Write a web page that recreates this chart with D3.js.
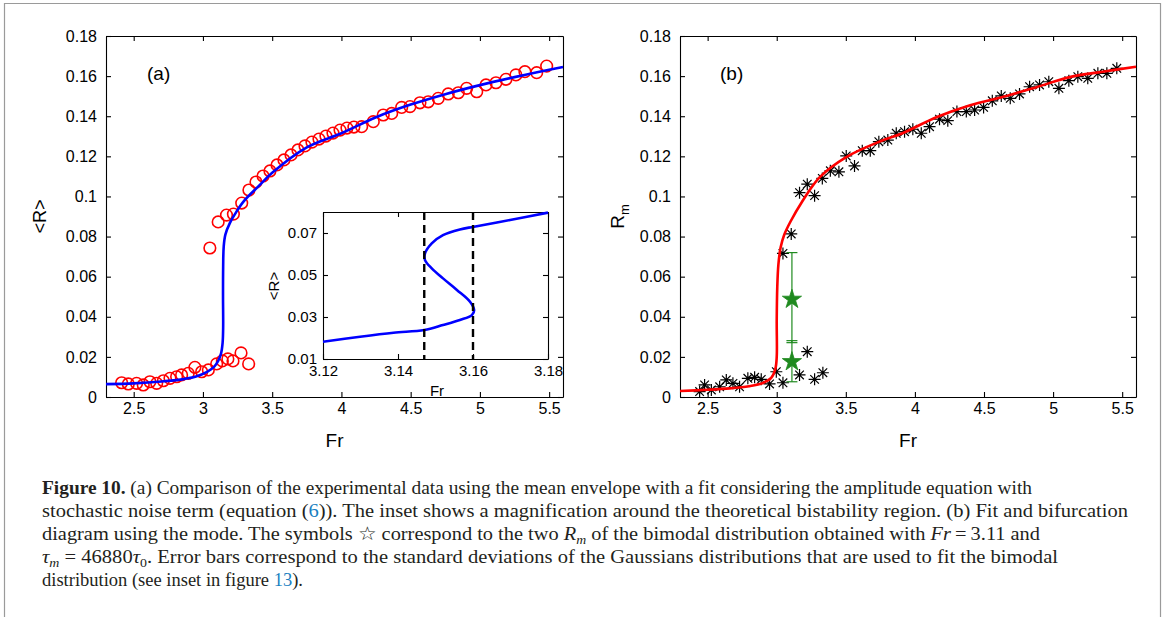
<!DOCTYPE html>
<html>
<head>
<meta charset="utf-8">
<script src="https://cdn.jsdelivr.net/npm/d3@7"></script>
<style>
  body { margin: 0; background: #fff; }
  text { font-family: "Liberation Sans", Arial, sans-serif; }
  .cap text { font-family: "Liberation Serif", "Times New Roman", serif; }
</style>
</head>
<body>
<script>
// tick values
var frTicks = [2.5, 3, 3.5, 4, 4.5, 5, 5.5];
var rTicks = [0, 0.02, 0.04, 0.06, 0.08, 0.1, 0.12, 0.14, 0.16, 0.18];
var insetFrTicks = [3.12, 3.14, 3.16, 3.18];
var insetRTicks = [0.01, 0.03, 0.05, 0.07];

// (a) experimental mean envelope (red circles)
var circleFr = [2.413, 2.461, 2.521, 2.569, 2.617, 2.666, 2.714, 2.762, 2.81, 2.846, 2.894, 2.942, 2.991, 3.039, 3.099,
    3.14, 3.18, 3.217, 3.275, 3.33,
    3.05, 3.11, 3.17, 3.22, 3.28,
    3.332, 3.383, 3.434, 3.484, 3.535, 3.585, 3.636, 3.686, 3.737, 3.787, 3.838, 3.888, 3.939, 3.99, 4.04, 4.09,
    4.146, 4.23, 4.302, 4.363, 4.435, 4.495, 4.567, 4.627, 4.699, 4.771, 4.844, 4.904, 4.977, 5.044, 5.116, 5.188, 5.26, 5.325, 5.41, 5.482];
var circleR = [0.0071, 0.0065, 0.0068, 0.006, 0.0076, 0.0068, 0.0081, 0.0093, 0.0101, 0.011, 0.0118, 0.0148, 0.0126, 0.0135, 0.0165,
    0.018, 0.019, 0.018, 0.022, 0.0165,
    0.0743, 0.0873, 0.0907, 0.0912, 0.0967,
    0.1032, 0.1072, 0.1102, 0.1127, 0.1157, 0.1182, 0.1207, 0.1232, 0.1252, 0.1271, 0.1286, 0.1301, 0.1316, 0.1331, 0.1341, 0.1346,
    0.1348, 0.1373, 0.1406, 0.1414, 0.1444, 0.1448, 0.1467, 0.1472, 0.1489, 0.1511, 0.1517, 0.1539, 0.1522, 0.1556, 0.1567, 0.1584, 0.1606, 0.1622, 0.1617, 0.165];

// (a) fit (blue line)
var fitAFr = [2.3, 2.5, 2.7, 2.85, 2.95, 3.03, 3.08, 3.11, 3.13, 3.142, 3.146, 3.145, 3.146, 3.15, 3.162, 3.195, 3.24, 3.3, 3.4, 3.5, 3.75, 4.0, 4.25, 4.5, 4.75, 5.0, 5.25, 5.5, 5.6];
var fitAR = [0.0064, 0.0068, 0.0077, 0.0088, 0.0102, 0.0125, 0.015, 0.018, 0.0215, 0.027, 0.035, 0.05, 0.065, 0.075, 0.081, 0.0868, 0.0922, 0.098, 0.105, 0.1118, 0.1245, 0.1315, 0.1395, 0.1458, 0.151, 0.1555, 0.1595, 0.1632, 0.1645];

// inset: S-shaped branch and bistability limits
var sFr = [3.12, 3.1299, 3.1388, 3.147, 3.152, 3.1565, 3.1597, 3.1603, 3.1592, 3.1557, 3.152, 3.149, 3.1472, 3.1472, 3.149, 3.152, 3.1565, 3.1603, 3.1699, 3.18];
var sR = [0.0182, 0.0206, 0.0225, 0.0238, 0.0262, 0.0286, 0.0309, 0.0333, 0.0373, 0.0429, 0.0484, 0.0532, 0.0571, 0.0603, 0.0651, 0.069, 0.0717, 0.073, 0.0762, 0.0797];
var limitFr = [3.147, 3.16];

// (b) mode (black asterisks)
var modeFr = [2.442, 2.478, 2.527, 2.587, 2.635, 2.683, 2.731, 2.791, 2.84, 2.888, 2.948, 2.997, 3.045, 3.165, 3.221, 3.274, 3.334,
    3.045, 3.105,
    3.165, 3.221, 3.274, 3.33, 3.388, 3.45, 3.503, 3.563, 3.619, 3.677, 3.739,
    3.804, 3.865, 3.925, 3.985, 4.046, 4.106, 4.178, 4.238, 4.304, 4.372, 4.432, 4.497, 4.56, 4.625, 4.69, 4.757, 4.83, 4.902, 4.969, 5.042, 5.114, 5.179, 5.251, 5.324, 5.389, 5.461];
var modeR = [0.0027, 0.006, 0.0035, 0.0051, 0.0085, 0.0068, 0.0051, 0.0093, 0.0098, 0.0088, 0.0065, 0.0126, 0.0071, 0.011, 0.0226, 0.0088, 0.0121,
    0.0716, 0.0813,
    0.1019, 0.1061, 0.1004, 0.109, 0.1128, 0.1123, 0.1202, 0.1152, 0.1228, 0.1228, 0.1273,
    0.1281, 0.1315, 0.1323, 0.1335, 0.1315, 0.1348, 0.1385, 0.1378, 0.1423, 0.1423, 0.1431, 0.1444, 0.1477, 0.1501, 0.1489, 0.1511, 0.1547, 0.1556, 0.1572, 0.1539, 0.1577, 0.1597, 0.1589, 0.1614, 0.1614, 0.1639];

// (b) fit (red line)
var fitBFr = [2.3, 2.5, 2.66, 2.8, 2.9, 2.96, 2.99, 3.0, 3.0, 3.004, 3.012, 3.028, 3.055, 3.1, 3.18, 3.31, 3.5, 3.75, 3.91, 4.155, 4.4, 4.64, 4.88, 5.12, 5.36, 5.6];
var fitBR = [0.003, 0.0036, 0.0043, 0.0054, 0.007, 0.0095, 0.014, 0.02, 0.038, 0.055, 0.066, 0.0745, 0.081, 0.0875, 0.097, 0.1095, 0.1195, 0.1275, 0.1315, 0.1395, 0.1455, 0.1497, 0.1545, 0.1595, 0.1622, 0.1647];

// (b) bimodal peaks at Fr = 3.11 with error bars
var peakFr = [3.11, 3.11];
var peakR = [0.0487, 0.0176];
var peakLo = [0.0271, 0.0076];
var peakHi = [0.072, 0.0281];

var capEnd = [1032, 1128, 1040, 1058, 303];

var width = 1168, height = 617;
var svg = d3.select("body").append("svg")
    .attr("width", width)
    .attr("height", height);

// frame around the figure
svg.append("path")
    .attr("d", "M4.5,625V3.5H1160.5V625")
    .attr("fill", "none")
    .attr("stroke", "#9a9a9a")
    .attr("stroke-width", 1.2);

function zip(a, b) {
    return a.map(function(d, i) { return [d, b[i]]; });
}

// box with inward ticks on all four sides, MATLAB style
function drawBox(g, x, y, xt, yt, fontSize, yPad) {
    var x0 = x.range()[0], x1 = x.range()[1];
    var y0 = y.range()[0], y1 = y.range()[1];
    g.append("g")
        .attr("transform", "translate(0," + y0 + ")")
        .call(d3.axisBottom(x).tickValues(xt).tickSizeInner(-5).tickSizeOuter(0).tickPadding(6).tickFormat(String));
    g.append("g")
        .attr("transform", "translate(0," + y1 + ")")
        .call(d3.axisTop(x).tickValues(xt).tickSizeInner(-5).tickSizeOuter(0).tickFormat(""));
    g.append("g")
        .attr("transform", "translate(" + x0 + ",0)")
        .call(d3.axisLeft(y).tickValues(yt).tickSizeInner(-5).tickSizeOuter(0).tickPadding(yPad).tickFormat(String));
    g.append("g")
        .attr("transform", "translate(" + x1 + ",0)")
        .call(d3.axisRight(y).tickValues(yt).tickSizeInner(-5).tickSizeOuter(0).tickFormat(""));
    g.selectAll(".tick text")
        .attr("font-family", "Liberation Sans, Arial, sans-serif")
        .attr("font-size", fontSize)
        .attr("fill", "#000");
    g.selectAll(".domain, .tick line").attr("stroke", "#000").attr("stroke-width", 1.1);
}

var line = d3.line().curve(d3.curveCatmullRom.alpha(0.5));

// ---------- panel (a)
var xA = d3.scaleLinear().domain([2.3, 5.6]).range([106, 563]);
var yA = d3.scaleLinear().domain([0, 0.18]).range([397, 36]);
var gA = svg.append("g");
drawBox(gA, xA, yA, frTicks, rTicks, 16, 9);

gA.selectAll(".circ")
    .data(zip(circleFr, circleR))
    .enter().append("circle")
    .attr("class", "circ")
    .attr("cx", function(d) { return xA(d[0]); })
    .attr("cy", function(d) { return yA(d[1]); })
    .attr("r", 5.8)
    .attr("fill", "none")
    .attr("stroke", "#ff0000")
    .attr("stroke-width", 1.6);

gA.append("path")
    .attr("d", line(zip(fitAFr, fitAR).map(function(d) { return [xA(d[0]), yA(d[1])]; })))
    .attr("fill", "none")
    .attr("stroke", "#0000ff")
    .attr("stroke-width", 2.6);

gA.append("text").attr("x", 147).attr("y", 80).attr("font-size", 19).text("(a)");
gA.append("text").attr("x", 334.5).attr("y", 447).attr("text-anchor", "middle").attr("font-size", 19).text("Fr");
gA.append("text").attr("transform", "translate(46,216.5) rotate(-90)").attr("text-anchor", "middle")
    .attr("font-size", 18).text("<R>");

// inset
var xI = d3.scaleLinear().domain([3.12, 3.18]).range([323, 548]);
var yI = d3.scaleLinear().domain([0.01, 0.08]).range([359, 212]);
var gI = svg.append("g");
gI.append("rect").attr("x", 323).attr("y", 212).attr("width", 225).attr("height", 147).attr("fill", "#fff");
drawBox(gI, xI, yI, insetFrTicks, insetRTicks, 15, 6);

gI.append("path")
    .attr("d", line(zip(sFr, sR).map(function(d) { return [xI(d[0]), yI(d[1])]; })))
    .attr("fill", "none")
    .attr("stroke", "#0000ff")
    .attr("stroke-width", 2.6);

gI.selectAll(".lim")
    .data(limitFr)
    .enter().append("line")
    .attr("class", "lim")
    .attr("x1", function(d) { return xI(d); })
    .attr("x2", function(d) { return xI(d); })
    .attr("y1", yI.range()[1])
    .attr("y2", yI.range()[0])
    .attr("stroke", "#000")
    .attr("stroke-width", 2.4)
    .attr("stroke-dasharray", "8,5");

gI.append("text").attr("x", 437).attr("y", 396).attr("text-anchor", "middle").attr("font-size", 15).text("Fr");
gI.append("text").attr("transform", "translate(279,286) rotate(-90)").attr("text-anchor", "middle")
    .attr("font-size", 15).text("<R>");

// ---------- panel (b)
var xB = d3.scaleLinear().domain([2.3, 5.6]).range([680, 1136]);
var yB = d3.scaleLinear().domain([0, 0.18]).range([397, 36]);
var gB = svg.append("g");
drawBox(gB, xB, yB, frTicks, rTicks, 16, 9);

var ast = "M-6,0H6M0,-6V6M-4.3,-4.3L4.3,4.3M-4.3,4.3L4.3,-4.3";
gB.selectAll(".ast")
    .data(zip(modeFr, modeR))
    .enter().append("path")
    .attr("class", "ast")
    .attr("transform", function(d) { return "translate(" + xB(d[0]) + "," + yB(d[1]) + ")"; })
    .attr("d", ast)
    .attr("stroke", "#000")
    .attr("stroke-width", 1.2)
    .attr("fill", "none");

gB.append("path")
    .attr("d", line(zip(fitBFr, fitBR).map(function(d) { return [xB(d[0]), yB(d[1])]; })))
    .attr("fill", "none")
    .attr("stroke", "#ff0000")
    .attr("stroke-width", 2.6);

var green = "#1f8a1f";
var peaks = peakFr.map(function(d, i) { return {fr: d, r: peakR[i], lo: peakLo[i], hi: peakHi[i]}; });
var eb = gB.selectAll(".eb").data(peaks).enter().append("g").attr("class", "eb");
eb.append("line")
    .attr("x1", function(d) { return xB(d.fr); })
    .attr("x2", function(d) { return xB(d.fr); })
    .attr("y1", function(d) { return yB(d.lo); })
    .attr("y2", function(d) { return yB(d.hi); })
    .attr("stroke", green).attr("stroke-width", 1.2);
eb.selectAll(".ebcap")
    .data(function(d) { return [{fr: d.fr, v: d.lo}, {fr: d.fr, v: d.hi}]; })
    .enter().append("line")
    .attr("class", "ebcap")
    .attr("x1", function(d) { return xB(d.fr) - 5.5; })
    .attr("x2", function(d) { return xB(d.fr) + 5.5; })
    .attr("y1", function(d) { return yB(d.v); })
    .attr("y2", function(d) { return yB(d.v); })
    .attr("stroke", green).attr("stroke-width", 1.2);
eb.append("path")
    .attr("transform", function(d) { return "translate(" + xB(d.fr) + "," + yB(d.r) + ")"; })
    .attr("d", d3.symbol().type(d3.symbolStar).size(115))
    .attr("fill", green)
    .attr("stroke", green)
    .attr("stroke-width", 0.8);

gB.append("text").attr("x", 720).attr("y", 80).attr("font-size", 19).text("(b)");
gB.append("text").attr("x", 908).attr("y", 447).attr("text-anchor", "middle").attr("font-size", 19).text("Fr");
var rm = gB.append("text").attr("transform", "translate(624,216.5) rotate(-90)").attr("text-anchor", "middle")
    .attr("font-size", 19);
rm.append("tspan").text("R");
rm.append("tspan").attr("font-size", 13).attr("dy", 5).text("m");

// ---------- caption
var capLines = [
    [{t: "Figure 10.", b: 1}, {t: " (a) Comparison of the experimental data using the mean envelope with a fit considering the amplitude equation with"}],
    [{t: "stochastic noise term (equation ("}, {t: "6", c: 1}, {t: ")). The inset shows a magnification around the theoretical bistability region. (b) Fit and bifurcation"}],
    [{t: "diagram using the mode. The symbols \u2606 correspond to the two "}, {t: "R", i: 1}, {t: "m", i: 1, s: 1}, {t: " of the bimodal distribution obtained with "}, {t: "Fr", i: 1}, {t: "\u2009=\u20093.11 and"}],
    [{t: "\u03c4", i: 1}, {t: "m", i: 1, s: 1}, {t: " = 46880"}, {t: "\u03c4", i: 1}, {t: "0", s: 1}, {t: ". Error bars correspond to the standard deviations of the Gaussians distributions that are used to fit the bimodal"}],
    [{t: "distribution (see inset in figure "}, {t: "13", c: 1}, {t: ")."}]
];
var capY = [494, 517, 540, 563, 586];

var cap = svg.append("g").attr("class", "cap");
capLines.forEach(function(parts, li) {
    var t = cap.append("text")
        .attr("x", 42)
        .attr("y", capY[li])
        .attr("font-size", 18.5)
        .attr("fill", "#231f20")
        .attr("textLength", capEnd[li] - 42)
        .attr("lengthAdjust", "spacingAndGlyphs");
    parts.forEach(function(p, k) {
        var prevSub = k > 0 && parts[k - 1].s;
        var ts = t.append("tspan").text(p.t);
        if (p.b) ts.attr("font-weight", "bold");
        if (p.i) ts.attr("font-style", "italic");
        if (p.c) ts.attr("fill", "#1a7fc1");
        if (p.s) ts.attr("font-size", 12.5).attr("dy", 4);
        else if (prevSub) ts.attr("dy", -4);
    });
});
</script>
</body>
</html>
